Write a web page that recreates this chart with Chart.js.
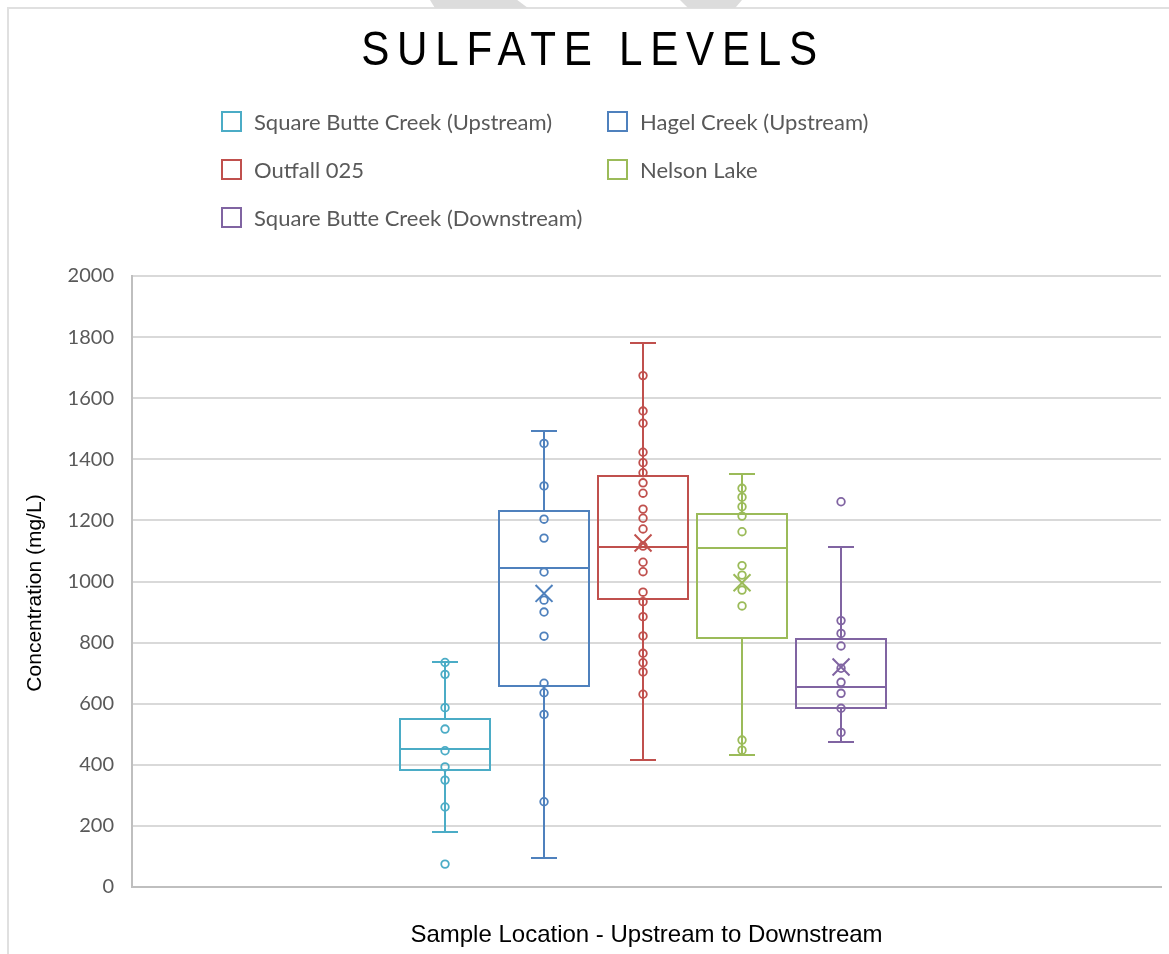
<!DOCTYPE html>
<html>
<head>
<meta charset="utf-8">
<title>Sulfate Levels</title>
<script src="https://cdn.jsdelivr.net/npm/chart.js@4.4.0/dist/chart.umd.min.js"></script>
<style>
  body { margin: 0; background: #fff; }
  #wrap { position: relative; width: 1169px; height: 954px; overflow: hidden; }
  #frame {
    position: absolute; left: 7px; top: 7px; right: -4px; bottom: -4px;
    border-left: 2px solid #e0e0e0; border-top: 2px solid #e0e0e0;
    pointer-events: none;
  }
  .tab { position: absolute; top: 0; height: 8px; background: #dcdcdc; }
</style>
</head>
<body>
<div id="wrap">
  <canvas id="sulfate-chart" width="1169" height="954"></canvas>
  <div id="frame"></div>
  <div class="tab" style="left:430px;width:98px;clip-path:polygon(0 0,89% 0,100% 100%,5% 100%)"></div>
  <div class="tab" style="left:680px;width:62px;clip-path:polygon(0 0,100% 0,89% 100%,13% 100%)"></div>
</div>
<script>
'use strict';

let locations = [
  'Square Butte Creek (Upstream)',
  'Hagel Creek (Upstream)',
  'Outfall 025',
  'Nelson Lake',
  'Square Butte Creek (Downstream)'
];
let locColors = ['#4BACC6', '#4F81BD', '#C0504D', '#9BBB59', '#8064A2'];

// sulfate samples, mg/L
let sbcUpstream = [735, 696, 587, 517, 446, 393, 350, 262, 75];
let hagelUpstream = [1452, 1313, 1204, 1142, 1031, 939, 900, 821, 667, 636, 565, 279];
let outfall025 = [1674, 1558, 1518, 1423, 1389, 1356, 1323, 1289, 1237, 1207, 1172, 1116,
  1063, 1032, 965, 934, 885, 822, 765, 734, 704, 631];
let nelsonLake = [1305, 1276, 1245, 1214, 1163, 1052, 1021, 972, 920, 481, 448];
let sbcDownstream = [1261, 872, 830, 789, 716, 670, 634, 585, 506];

let samples = [sbcUpstream, hagelUpstream, outfall025, nelsonLake, sbcDownstream];

// box + whisker summary per location
let whiskerLow = [181, 95, 415, 432, 476];
let quartile1 = [383, 659, 942, 814, 585];
let medians = [451, 1043, 1112, 1109, 654];
let quartile3 = [551, 1232, 1346, 1221, 812];
let whiskerHigh = [738, 1493, 1782, 1352, 1112];
let means = [null, 961, 1126, 996, 720];

let yMin = 0;
let yMax = 2000;
let yStep = 200;

let canvasElem = document.getElementById('sulfate-chart');

let boxHalf = 0.455;
let capHalf = 0.135;

let boxPlugin = {
  id: 'boxes',
  beforeDatasetsDraw(chart) {
    let ctx = chart.ctx;
    let xs = chart.scales.x;
    let ys = chart.scales.y;
    ctx.save();
    ctx.lineWidth = 2;
    for (let i = 0; i < locations.length; i++) {
      let pos = i + 1;
      let cx = Math.round(xs.getPixelForValue(pos));
      let left = Math.round(xs.getPixelForValue(pos - boxHalf));
      let right = Math.round(xs.getPixelForValue(pos + boxHalf));
      let capL = Math.round(xs.getPixelForValue(pos - capHalf));
      let capR = Math.round(xs.getPixelForValue(pos + capHalf));
      let yLo = Math.round(ys.getPixelForValue(whiskerLow[i]));
      let yQ1 = Math.round(ys.getPixelForValue(quartile1[i]));
      let yMed = Math.round(ys.getPixelForValue(medians[i]));
      let yQ3 = Math.round(ys.getPixelForValue(quartile3[i]));
      let yHi = Math.round(ys.getPixelForValue(whiskerHigh[i]));

      ctx.strokeStyle = locColors[i];
      ctx.beginPath();
      // whiskers
      ctx.moveTo(cx, yQ3); ctx.lineTo(cx, yHi);
      ctx.moveTo(capL, yHi); ctx.lineTo(capR, yHi);
      ctx.moveTo(cx, yQ1); ctx.lineTo(cx, yLo);
      ctx.moveTo(capL, yLo); ctx.lineTo(capR, yLo);
      // box and median
      ctx.rect(left, yQ3, right - left, yQ1 - yQ3);
      ctx.moveTo(left, yMed); ctx.lineTo(right, yMed);
      ctx.stroke();
    }
    ctx.restore();
  }
};

let headerPlugin = {
  id: 'header',
  afterDraw(chart) {
    let ctx = chart.ctx;
    ctx.save();

    // title: condensed caps with wide tracking
    ctx.save();
    ctx.translate(593, 51);
    ctx.scale(0.86, 1);
    ctx.fillStyle = '#000';
    ctx.font = '49px "Liberation Sans", Arial, sans-serif';
    ctx.letterSpacing = '9px';
    ctx.textAlign = 'center';
    ctx.textBaseline = 'middle';
    ctx.fillText('SULFATE LEVELS', 0, 0);
    ctx.restore();

    // y axis title, sits a little below the axis middle
    ctx.save();
    ctx.translate(35, 593);
    ctx.rotate(-Math.PI / 2);
    ctx.fillStyle = '#000';
    ctx.font = '21px "Liberation Sans", Arial, sans-serif';
    ctx.textAlign = 'center';
    ctx.textBaseline = 'middle';
    ctx.fillText('Concentration (mg/L)', 0, 0);
    ctx.restore();

    // legend, two columns
    let colX = [222, 608];
    let rowY = [122, 170, 218];
    ctx.font = '22px Lato, "Open Sans", sans-serif';
    ctx.textAlign = 'left';
    ctx.textBaseline = 'middle';
    ctx.lineWidth = 2;
    for (let i = 0; i < locations.length; i++) {
      let ds = chart.data.datasets[i];
      let bx = colX[i % 2];
      let by = rowY[Math.floor(i / 2)];
      ctx.fillStyle = '#fff';
      ctx.strokeStyle = ds.borderColor;
      ctx.fillRect(bx, by - 10, 19, 19);
      ctx.strokeRect(bx, by - 10, 19, 19);
      ctx.fillStyle = '#595959';
      ctx.fillText(ds.label, bx + 32, by + 1);
    }
    ctx.restore();
  }
};

function buildDatasets() {
  let sets = [];
  for (let i = 0; i < locations.length; i++) {
    sets.push({
      type: 'scatter',
      label: locations[i],
      data: samples[i].map(v => ({ x: i + 1, y: v })),
      borderColor: locColors[i],
      backgroundColor: 'rgba(255,255,255,0)',
      pointRadius: 3.8,
      pointBorderWidth: 1.8,
      pointHoverRadius: 3.8
    });
  }
  let meanPts = [];
  let meanColors = [];
  for (let i = 0; i < means.length; i++) {
    if (means[i] === null) continue;
    meanPts.push({ x: i + 1, y: means[i] });
    meanColors.push(locColors[i]);
  }
  sets.push({
    type: 'scatter',
    label: 'Mean',
    data: meanPts,
    pointStyle: 'crossRot',
    pointRadius: 12,
    pointBorderWidth: 2,
    borderColor: meanColors,
    backgroundColor: meanColors
  });
  return sets;
}

function renderChart() {
  Chart.defaults.font.family = 'Lato, "Open Sans", sans-serif';

  let chartObj = {
    type: 'scatter',
    data: { datasets: buildDatasets() },
    options: {
      responsive: false,
      animation: false,
      devicePixelRatio: 1,
      layout: {
        autoPadding: false,
        padding: { top: 276, right: 8, bottom: 0, left: 0 }
      },
      scales: {
        x: {
          type: 'linear',
          min: -2.162,
          max: 8.232,
          ticks: { display: false },
          grid: { display: false },
          border: { color: '#bfbfbf', width: 2 },
          title: {
            display: true,
            text: 'Sample Location - Upstream to Downstream',
            color: '#000',
            font: { family: '"Liberation Sans", Arial, sans-serif', size: 24 },
            padding: { top: 0, bottom: 4 }
          },
          afterFit(scale) { scale.height = 67; }
        },
        y: {
          min: yMin,
          max: yMax,
          ticks: {
            stepSize: yStep,
            color: '#595959',
            padding: 18,
            font: { size: 20 },
            callback: v => String(v)
          },
          grid: { color: '#d9d9d9', lineWidth: 2, drawTicks: false },
          border: { color: '#bfbfbf', width: 2 },
          title: { display: false },
          afterFit(scale) { scale.width = 132; }
        }
      },
      plugins: {
        legend: { display: false },
        title: { display: false },
        tooltip: { enabled: false }
      }
    },
    plugins: [boxPlugin, headerPlugin]
  };

  new Chart(canvasElem, chartObj); //eslint-disable-line
}

renderChart();
</script>
</body>
</html>
